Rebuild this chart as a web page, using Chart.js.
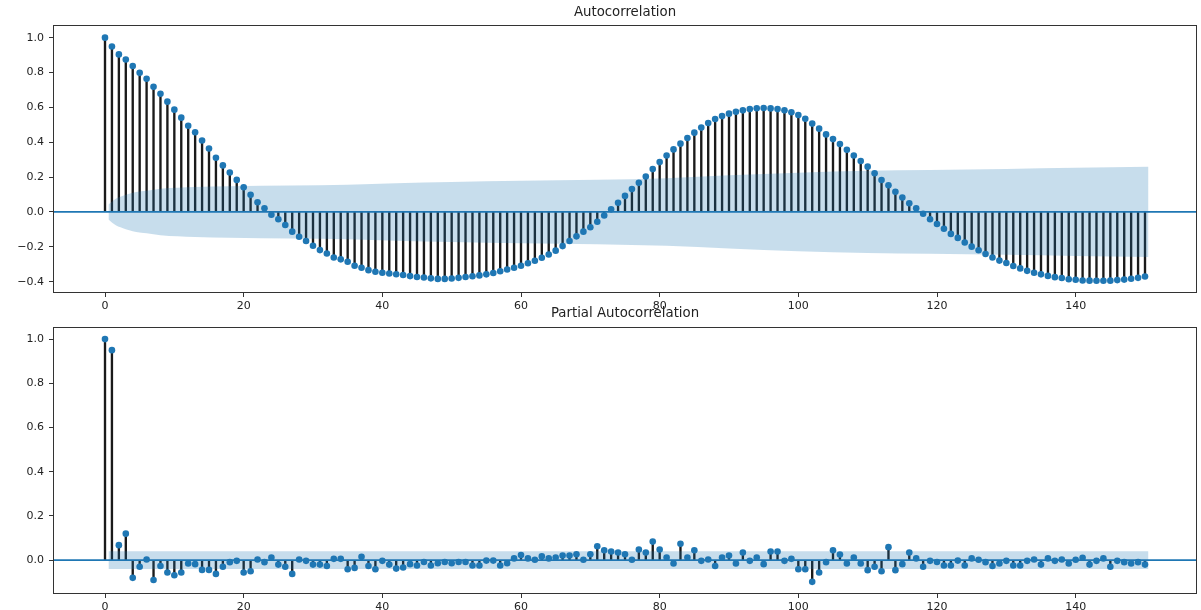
<!DOCTYPE html>
<html lang="en">
<head>
<meta charset="UTF-8">
<title>ACF / PACF</title>
<style>
  body { margin: 0; background: #fff; }
  .plot { position: absolute; left: 0; width: 1201px; height: 310px; }
  #top { top: 0; }
  #bottom { top: 300px; }
</style>
</head>
<body>
<div class="plot" id="top"><canvas id="acfChart" width="1201" height="310"></canvas></div>
<div class="plot" id="bottom"><canvas id="pacfChart" width="1201" height="310"></canvas></div>
<script src="https://cdn.jsdelivr.net/npm/chart.js"></script>
<script>
// values, lag 0..150
const acfValues = [
  1.000, 0.949, 0.904, 0.875, 0.837, 0.798, 0.764, 0.718, 0.678, 0.633,
  0.587, 0.541, 0.495, 0.457, 0.410, 0.364, 0.311, 0.267, 0.226, 0.184,
  0.142, 0.098, 0.056, 0.021, -0.016, -0.042, -0.075, -0.113, -0.142, -0.167,
  -0.194, -0.219, -0.238, -0.261, -0.272, -0.286, -0.309, -0.320, -0.334, -0.343,
  -0.349, -0.353, -0.357, -0.362, -0.368, -0.373, -0.376, -0.381, -0.384, -0.384,
  -0.382, -0.378, -0.373, -0.369, -0.364, -0.358, -0.350, -0.340, -0.330, -0.320,
  -0.309, -0.294, -0.280, -0.263, -0.244, -0.222, -0.196, -0.167, -0.140, -0.113,
  -0.088, -0.056, -0.020, 0.015, 0.053, 0.092, 0.131, 0.167, 0.203, 0.246,
  0.286, 0.324, 0.359, 0.392, 0.424, 0.455, 0.484, 0.510, 0.533, 0.550,
  0.564, 0.575, 0.583, 0.590, 0.595, 0.596, 0.594, 0.590, 0.583, 0.572,
  0.556, 0.535, 0.507, 0.478, 0.445, 0.418, 0.390, 0.357, 0.324, 0.292,
  0.260, 0.222, 0.183, 0.153, 0.116, 0.083, 0.050, 0.021, -0.010, -0.042,
  -0.069, -0.096, -0.126, -0.149, -0.175, -0.199, -0.220, -0.241, -0.261, -0.279,
  -0.293, -0.310, -0.324, -0.338, -0.349, -0.358, -0.367, -0.374, -0.379, -0.386,
  -0.389, -0.393, -0.394, -0.395, -0.395, -0.394, -0.391, -0.388, -0.383, -0.378,
  -0.370
];
const pacfValues = [
  1.000, 0.950, 0.068, 0.120, -0.080, -0.030, 0.003, -0.090, -0.026, -0.056,
  -0.068, -0.056, -0.015, -0.018, -0.044, -0.044, -0.062, -0.030, -0.009, -0.003,
  -0.056, -0.050, 0.003, -0.009, 0.012, -0.020, -0.030, -0.062, 0.003, -0.003,
  -0.020, -0.020, -0.026, 0.006, 0.006, -0.041, -0.035, 0.015, -0.026, -0.041,
  -0.003, -0.020, -0.038, -0.033, -0.018, -0.024, -0.008, -0.024, -0.014, -0.008,
  -0.014, -0.008, -0.008, -0.024, -0.024, -0.002, -0.002, -0.024, -0.014, 0.008,
  0.023, 0.008, 0.002, 0.017, 0.008, 0.012, 0.021, 0.021, 0.027, 0.002,
  0.027, 0.063, 0.045, 0.039, 0.035, 0.027, 0.002, 0.048, 0.035, 0.084,
  0.048, 0.012, -0.015, 0.074, 0.012, 0.045, -0.003, 0.003, -0.026, 0.012,
  0.021, -0.015, 0.035, -0.003, 0.012, -0.018, 0.039, 0.039, -0.003, 0.006,
  -0.041, -0.041, -0.098, -0.056, -0.009, 0.045, 0.026, -0.015, 0.012, -0.015,
  -0.045, -0.030, -0.050, 0.059, -0.045, -0.018, 0.035, 0.008, -0.030, -0.003,
  -0.008, -0.024, -0.024, -0.002, -0.024, 0.008, 0.002, -0.009, -0.026, -0.015,
  -0.003, -0.024, -0.024, -0.003, 0.003, -0.020, 0.008, -0.003, 0.003, -0.015,
  0.002, 0.011, -0.020, -0.003, 0.008, -0.030, -0.003, -0.009, -0.015, -0.009,
  -0.020
];
// confidence band half-widths read at a few lags
const acfBandLags  = [0.5, 1.5, 2.5, 3.5, 4.5, 6, 8, 13, 18, 27, 35, 42, 50, 60, 71, 81, 90, 100, 110, 119, 130, 140, 150.5];
const acfBandWidth = [0.043, 0.075, 0.092, 0.105, 0.115, 0.122, 0.133, 0.143, 0.148, 0.152, 0.156, 0.165, 0.172, 0.179, 0.185, 0.194, 0.210, 0.225, 0.236, 0.240, 0.246, 0.253, 0.259];
const pacfBandLags  = [0.5, 150.5];
const pacfBandWidth = [0.04, 0.04];

const xTicks = [0, 20, 40, 60, 80, 100, 120, 140];
const acfYTicks = [-0.4, -0.2, 0, 0.2, 0.4, 0.6, 0.8, 1.0];
const pacfYTicks = [0, 0.2, 0.4, 0.6, 0.8, 1.0];
const xLimits = [-7.5, 157.5];
const acfYLimits = [-0.465, 1.07];
const pacfYLimits = [-0.153, 1.055];

const blue = '#1f77b4';
Chart.defaults.font.family = 'DejaVu Sans';
Chart.defaults.color = '#222';

// matplotlib style box around the axes
const framePlugin = {
  id: 'frame',
  afterDraw(chart) {
    const { ctx, chartArea: a } = chart;
    ctx.save();
    ctx.strokeStyle = '#333';
    ctx.lineWidth = 1;
    ctx.strokeRect(Math.round(a.left) + 0.5, Math.round(a.top) + 0.5,
      Math.round(a.right - a.left) - 1, Math.round(a.bottom - a.top) - 1);
    ctx.restore();
  }
};

function fmt(v) {
  const s = Math.abs(v).toFixed(1);
  return v < -1e-9 ? '\u2212' + s : s;
}

function makeChart(id, title, values, bandLags, bandWidth, yLimits, yTicks, xAxisHeight, titlePad) {
  const points = values.map((v, i) => ({ x: i, y: v }));
  new Chart(document.getElementById(id), {
    type: 'scatter',
    data: {
      datasets: [
        {
          type: 'line',
          data: bandLags.map((x, i) => ({ x: x, y: bandWidth[i] })),
          borderWidth: 0,
          pointRadius: 0,
          cubicInterpolationMode: 'monotone',
          backgroundColor: 'rgba(31,119,180,0.25)',
          fill: '+1',
          order: 0
        },
        {
          type: 'line',
          data: bandLags.map((x, i) => ({ x: x, y: -bandWidth[i] })),
          borderWidth: 0,
          pointRadius: 0,
          cubicInterpolationMode: 'monotone',
          fill: false,
          order: 0
        },
        {
          type: 'scatter',
          data: points,
          pointRadius: 3.3,
          pointBackgroundColor: blue,
          pointBorderWidth: 0,
          order: 1
        },
        {
          type: 'line',
          data: [{ x: xLimits[0], y: 0 }, { x: xLimits[1], y: 0 }],
          borderColor: blue,
          borderWidth: 1.7,
          pointRadius: 0,
          fill: false,
          order: 2
        },
        {
          type: 'bar',
          data: points,
          barThickness: 1.7,
          backgroundColor: '#1a1a1a',
          order: 3
        }
      ]
    },
    options: {
      responsive: false,
      animation: false,
      layout: { padding: { left: 0, right: 2, top: 0, bottom: 0 } },
      plugins: {
        legend: { display: false },
        tooltip: { enabled: false },
        title: {
          display: true,
          text: title,
          fullSize: false,
          color: '#222',
          font: { size: 13.3, weight: 'normal' },
          padding: titlePad
        }
      },
      scales: {
        x: {
          type: 'linear',
          min: xLimits[0],
          max: xLimits[1],
          offset: false,
          afterBuildTicks: s => { s.ticks = xTicks.map(v => ({ value: v })); },
          afterFit: s => { s.height = xAxisHeight; },
          ticks: { font: { size: 11 }, color: '#222', padding: 3, maxRotation: 0, autoSkip: false },
          grid: { drawOnChartArea: false, drawTicks: true, tickLength: 4, color: '#333', offset: false },
          border: { display: false }
        },
        y: {
          type: 'linear',
          min: yLimits[0],
          max: yLimits[1],
          afterBuildTicks: s => { s.ticks = yTicks.map(v => ({ value: v })); },
          afterFit: s => { s.width = 53; },
          ticks: { font: { size: 11 }, color: '#222', padding: 5, callback: v => fmt(v) },
          grid: { drawOnChartArea: false, drawTicks: true, tickLength: 4, color: '#333' },
          border: { display: false }
        }
      }
    },
    plugins: [framePlugin]
  });
}

makeChart('acfChart', 'Autocorrelation', acfValues, acfBandLags, acfBandWidth,
  acfYLimits, acfYTicks, 17, { top: 5, bottom: 4.5 });
makeChart('pacfChart', 'Partial Autocorrelation', pacfValues, pacfBandLags, pacfBandWidth,
  pacfYLimits, pacfYTicks, 16, { top: 6, bottom: 5 });
</script>
</body>
</html>
